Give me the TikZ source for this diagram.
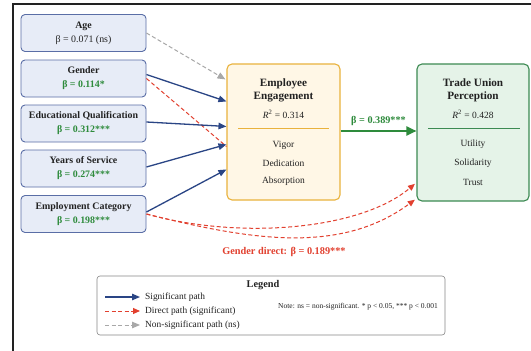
\documentclass[tikz,border=0pt]{standalone}
\usepackage{fontspec}
\setmainfont{Liberation Serif}
\usetikzlibrary{arrows.meta,calc}
\definecolor{predfill}{HTML}{E7ECF7}
\definecolor{predline}{HTML}{5A6EA6}
\definecolor{navy}{HTML}{2A4585}
\definecolor{sigg}{HTML}{2E8B3C}
\definecolor{engfill}{HTML}{FFF7E6}
\definecolor{engline}{HTML}{E9B23C}
\definecolor{tufill}{HTML}{E5F3E8}
\definecolor{tuline}{HTML}{3C8A52}
\definecolor{redp}{HTML}{E2402F}
\definecolor{nsgrey}{HTML}{A8A8A8}
\definecolor{txt}{HTML}{222222}
\tikzset{
  pred/.style={draw=predline, fill=predfill, rounded corners=4pt, line width=0.9pt,
    minimum width=125pt, minimum height=37pt, inner sep=0pt, align=center,
    text=txt, font=\fontsize{9.9}{14}\selectfont},
  bigbox/.style={rounded corners=5pt, line width=1.1pt, inner sep=0pt},
  inner/.style={inner sep=0pt, align=center, text=txt, font=\fontsize{9.5}{10}\selectfont},
  btitle/.style={inner sep=0pt, align=center, text=txt, font=\bfseries\fontsize{11.2}{13}\selectfont},
  sigpath/.style={draw=navy, line width=1.3pt, -{Triangle[length=8pt,width=6.5pt]}},
  dirpath/.style={draw=redp, line width=1pt, dash pattern=on 4pt off 2.5pt, -{Triangle[length=7pt,width=6pt]}},
  nspath/.style={draw=nsgrey, line width=1pt, dash pattern=on 4pt off 2.5pt, -{Triangle[length=8pt,width=6.5pt]}},
  legtext/.style={anchor=west, inner sep=0pt, text=txt, font=\fontsize{9.4}{10}\selectfont},
}
\begin{document}
\begin{tikzpicture}[x=1pt,y=-1pt]
\useasboundingbox (0,0) rectangle (531,351);
\clip (0,0) rectangle (531,351);
\fill[white] (0,0) rectangle (531,351);
\draw[line width=1.4pt, txt] (13,360) -- (13,4) -- (545,4);

% predictors
\node[pred] (age) at (83.5,33) {\textbf{Age}\\β = 0.071 (ns)};
\node[pred] (gender) at (83.5,78.5) {\textbf{Gender}\\\textcolor{sigg}{\textbf{β = 0.114*}}};
\node[pred] (edu) at (83.5,123.5) {\textbf{Educational Qualification}\\\textcolor{sigg}{\textbf{β = 0.312***}}};
\node[pred] (years) at (83.5,168.5) {\textbf{Years of Service}\\\textcolor{sigg}{\textbf{β = 0.274***}}};
\node[pred] (emp) at (83.5,214) {\textbf{Employment Category}\\\textcolor{sigg}{\textbf{β = 0.198***}}};

% engagement box
\node[bigbox, draw=engline, fill=engfill, minimum width=113pt, minimum height=136pt] (eng) at (283.5,132) {};
\node[btitle] (engt) at (283.5,90) {Employee\\Engagement};
\node[inner] (engr) at (283.5,114) {\textit{R}\textsuperscript{2} = 0.314};
\coordinate (engl1) at (238,128);
\coordinate (engl2) at (329,128);
\draw[engline, line width=0.8pt] (engl1) -- (engl2);
\node[inner] (vig) at (283.5,145) {Vigor};
\node[inner] (ded) at (283.5,163) {Dedication};
\node[inner] (abs) at (283.5,181) {Absorption};

% trade union box
\node[bigbox, draw=tuline, fill=tufill, minimum width=112pt, minimum height=137pt] (tu) at (473,132.5) {};
\node[btitle] (tut) at (473,90) {Trade Union\\Perception};
\node[inner] (tur) at (473,114) {\textit{R}\textsuperscript{2} = 0.428};
\coordinate (tul1) at (428,128);
\coordinate (tul2) at (520,128);
\draw[tuline, line width=0.8pt] (tul1) -- (tul2);
\node[inner] (uti) at (473,144) {Utility};
\node[inner] (sol) at (473,163) {Solidarity};
\node[inner] (tru) at (473,182) {Trust};

% paths to engagement
\draw[nspath] (age.east) -- ($(eng.north west)+(-1,16)$);
\draw[sigpath] ($(gender.east)+(0,-4)$) -- ($(eng.north west)+(0,38)$);
\draw[redp, line width=1pt, dash pattern=on 4pt off 2.5pt] (gender.east) -- ($(eng.north west)+(0,83)$);
\draw[sigpath] ($(edu.east)+(0,-1.5)$) -- ($(eng.north west)+(0,63)$);
\draw[sigpath] ($(years.east)+(0,-1.5)$) -- ($(eng.north west)+(0,81)$);
\draw[sigpath] ($(emp.east)+(0,-2)$) -- ($(eng.north west)+(0,106)$);

% engagement -> TU
\draw[sigg, line width=2pt, -{Triangle[length=10pt,width=9pt]}] ($(eng.east)+(0,-1)$) -- ($(tu.west)+(0,-1.5)$)
  node[midway, above=4pt, inner sep=0pt, text=sigg, font=\bfseries\fontsize{10.2}{11}\selectfont] (b389) {β = 0.389***};

% direct paths
\draw[dirpath, shorten >=2pt] (emp.east) .. controls (240,240) and (360,230) .. ($(tu.south west)+(0,-19)$);
\draw[dirpath, shorten >=2pt] (emp.east) .. controls (250,240) and (340,255) .. ($(tu.south west)+(0,-3)$);
\node[inner sep=0pt, text=redp, font=\bfseries\fontsize{10.3}{11}\selectfont] (gd) at (284,252) {Gender direct: β = 0.189***};

% legend
\node[draw=nsgrey!80!black, fill=white, rounded corners=3pt, line width=0.6pt, minimum width=348pt, minimum height=59pt, inner sep=0pt] (leg) at (271,305.5) {};
\node[inner sep=0pt, text=txt, font=\bfseries\fontsize{10.3}{11}\selectfont] (legt) at (263,285) {Legend};
\coordinate (la1) at (105,297); \coordinate (lb1) at (140,297);
\coordinate (la2) at (105,311); \coordinate (lb2) at (140,311);
\coordinate (la3) at (105,325); \coordinate (lb3) at (140,325);
\draw[sigpath] (la1) -- (lb1);
\draw[dirpath] (la2) -- (lb2);
\draw[nspath] (la3) -- (lb3);
\node[legtext] (lt1) at (145,297) {Significant path};
\node[legtext] (lt2) at (145,311) {Direct path (significant)};
\node[legtext] (lt3) at (145,325) {Non-significant path (ns)};
\node[anchor=west, inner sep=0pt, text=txt, font=\fontsize{7.5}{8}\selectfont] (note) at (278,307) {Note: ns = non-significant. * p < 0.05, *** p < 0.001};
\end{tikzpicture}
\end{document}
